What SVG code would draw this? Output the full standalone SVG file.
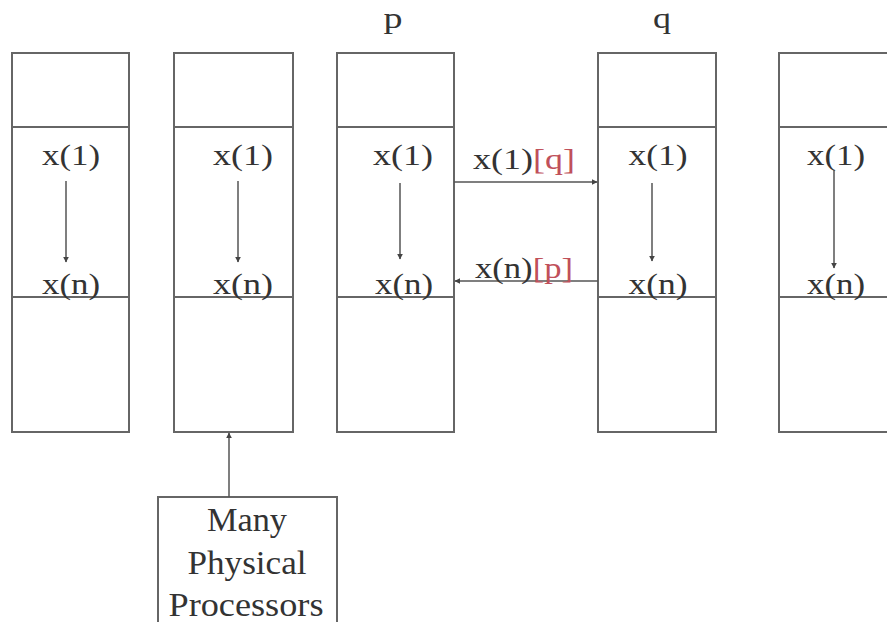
<svg xmlns="http://www.w3.org/2000/svg" width="887" height="622" viewBox="0 0 887 622">
<defs>
<style>
.box{fill:#fff;stroke:#666;stroke-width:2}
.ln{stroke:#666;stroke-width:2;fill:none}
.ar{stroke:#555;stroke-width:1.5;fill:none}
text{font-family:"Liberation Serif","Times New Roman",serif;font-size:29px;fill:#333;text-anchor:middle}
.big{font-size:33px}
.red{fill:#c0505a}
</style>
<marker id="ah" viewBox="0 0 10 10" refX="9" refY="5" markerWidth="6" markerHeight="6" orient="auto" markerUnits="userSpaceOnUse">
<path d="M0,0L10,5L0,10z" fill="#444"/>
</marker>
</defs>
<rect width="887" height="622" fill="#fff"/>
<g id="col1">
<rect class="box" x="12" y="53" width="117" height="379"/>
<line class="ln" x1="12" y1="127" x2="129" y2="127"/>
<line class="ln" x1="12" y1="297" x2="129" y2="297"/>
<text x="71" y="165" textLength="58" lengthAdjust="spacingAndGlyphs">x(1)</text>
<text x="71" y="294" textLength="58" lengthAdjust="spacingAndGlyphs">x(n)</text>
</g>
<g id="col2">
<rect class="box" x="174" y="53" width="119" height="379"/>
<line class="ln" x1="174" y1="127" x2="293" y2="127"/>
<line class="ln" x1="174" y1="297" x2="293" y2="297"/>
<text x="243" y="165" textLength="60" lengthAdjust="spacingAndGlyphs">x(1)</text>
<text x="243" y="294" textLength="60" lengthAdjust="spacingAndGlyphs">x(n)</text>
</g>
<g id="col3">
<text x="393" y="28" textLength="19" lengthAdjust="spacingAndGlyphs">p</text>
<rect class="box" x="337" y="53" width="117" height="379"/>
<line class="ln" x1="337" y1="127" x2="454" y2="127"/>
<line class="ln" x1="337" y1="297" x2="454" y2="297"/>
<text x="403" y="165" textLength="60" lengthAdjust="spacingAndGlyphs">x(1)</text>
<text x="404" y="294" textLength="58" lengthAdjust="spacingAndGlyphs">x(n)</text>
</g>
<g id="col4">
<text x="662" y="28" textLength="18" lengthAdjust="spacingAndGlyphs">q</text>
<rect class="box" x="598" y="53" width="118" height="379"/>
<line class="ln" x1="598" y1="127" x2="716" y2="127"/>
<line class="ln" x1="598" y1="297" x2="716" y2="297"/>
<text x="658" y="165" textLength="59" lengthAdjust="spacingAndGlyphs">x(1)</text>
<text x="658" y="294" textLength="59" lengthAdjust="spacingAndGlyphs">x(n)</text>
</g>
<g id="col5">
<rect class="box" x="779" y="53" width="130" height="379"/>
<line class="ln" x1="779" y1="127" x2="909" y2="127"/>
<line class="ln" x1="779" y1="297" x2="909" y2="297"/>
<text x="836" y="165" textLength="58" lengthAdjust="spacingAndGlyphs">x(1)</text>
<text x="836" y="294" textLength="58" lengthAdjust="spacingAndGlyphs">x(n)</text>
</g>
<g id="processors">
<rect class="box" x="158" y="497" width="179" height="140"/>
<text class="big" x="247" y="531" textLength="80" lengthAdjust="spacingAndGlyphs">Many</text>
<text class="big" x="247" y="574" textLength="119" lengthAdjust="spacingAndGlyphs">Physical</text>
<text class="big" x="246" y="616" textLength="155" lengthAdjust="spacingAndGlyphs">Processors</text>
</g>
<g id="connectors">
<line class="ar" x1="66" y1="181" x2="66" y2="262" marker-end="url(#ah)"/>
<line class="ar" x1="238" y1="181" x2="238" y2="262" marker-end="url(#ah)"/>
<line class="ar" x1="400" y1="183" x2="400" y2="259" marker-end="url(#ah)"/>
<line class="ar" x1="652" y1="183" x2="652" y2="261" marker-end="url(#ah)"/>
<line class="ar" x1="834" y1="170" x2="834" y2="268" marker-end="url(#ah)"/>
<line class="ar" x1="454" y1="182" x2="597" y2="182" marker-end="url(#ah)"/>
<line class="ar" x1="598" y1="281" x2="455" y2="281" marker-end="url(#ah)"/>
<line class="ar" x1="229" y1="497" x2="229" y2="433" marker-end="url(#ah)"/>
<text x="524" y="169" textLength="102" lengthAdjust="spacingAndGlyphs">x(1)<tspan class="red">[q]</tspan></text>
<text x="524" y="278" textLength="98" lengthAdjust="spacingAndGlyphs">x(n)<tspan class="red">[p]</tspan></text>
</g>
</svg>
